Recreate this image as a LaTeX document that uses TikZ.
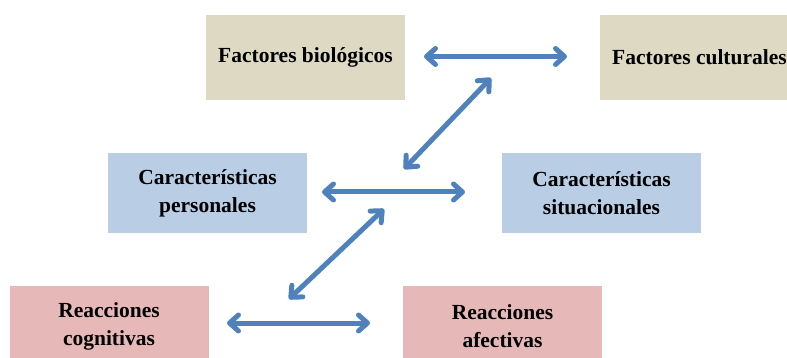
\documentclass[tikz,border=0pt]{standalone}
\usepackage{fontspec}
\setmainfont{Liberation Serif}
\usetikzlibrary{arrows.meta}
\definecolor{Bio}{RGB}{221,217,195}
\definecolor{Car}{RGB}{185,205,229}
\definecolor{Rea}{RGB}{230,185,184}
\definecolor{Flecha}{RGB}{79,129,189}
\def\Ancho{199}
\def\Alto{80}

\begin{document}
\begin{tikzpicture}[x=1pt,y=-1pt,
    caja/.style={rectangle,minimum width=\Ancho pt,minimum height=\Alto pt,inner sep=0pt,align=center,font=\fontsize{21.5}{28}\selectfont\bfseries},
    flecha/.style={Flecha,line width=5pt,line cap=round,{Straight Barb[round,length=9pt,width=16pt]}-{Straight Barb[round,length=9pt,width=16pt]}}]
    \useasboundingbox (0,0) rectangle (787,358);
    \clip (0,0) rectangle (787,358);
    % cajas
    \node[caja,fill=Bio,minimum height=85pt] (bio) at (305.5,57.5) {Factores biológicos};
    \node[caja,fill=Bio,minimum height=85pt] (cul) at (699.5,57.5) {Factores culturales};
    \node[caja,fill=Car] (per) at (207.5,193) {Características\\personales};
    \node[caja,fill=Car] (sit) at (601.5,193) {Características\\situacionales};
    \node[caja,fill=Rea] (cog) at (109,326) {Reacciones\\cognitivas};
    \node[caja,fill=Rea] (afe) at (502.5,326) {Reacciones\\afectivas};
    % extremos de las flechas
    \coordinate (F1a) at (424,56.5);  \coordinate (F1b) at (567,56.5);
    \coordinate (F2a) at (404,169);   \coordinate (F2b) at (491,78);
    \coordinate (F3a) at (322,192);   \coordinate (F3b) at (465,192);
    \coordinate (F4a) at (289,299);   \coordinate (F4b) at (384,209);
    \coordinate (F5a) at (227,323);   \coordinate (F5b) at (370,323);
    \foreach \F in {1,...,5} {\draw[flecha] (F\F a) -- (F\F b);}
\end{tikzpicture}
\end{document}
